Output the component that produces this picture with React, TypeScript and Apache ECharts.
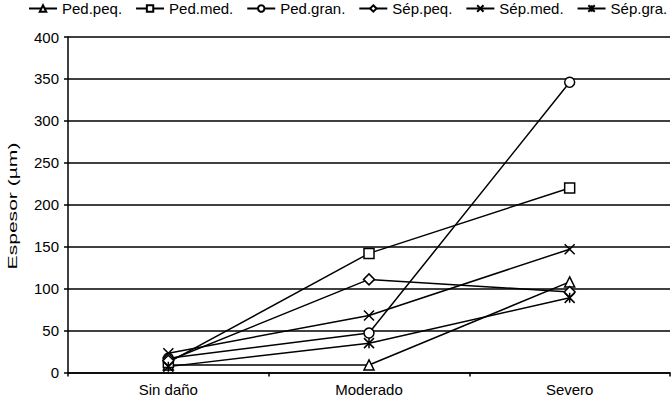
import React, { useEffect, useRef } from "react";
import * as echarts from "echarts";

const categories = ["Sin daño", "Moderado", "Severo"];
const seriesNames = ["Ped.peq.", "Ped.med.", "Ped.gran.", "Sép.peq.", "Sép.med.", "Sép.gra."];
const pedPeq = [9, 9, 108];
const pedMed = [12, 142, 220];
const pedGran = [17, 47, 346];
const sepPeq = [14, 111, 96];
const sepMed = [23, 68, 147];
const sepGra = [7, 35, 89];
const yTicks = [0, 50, 100, 150, 200, 250, 300, 350, 400];
const yTitle = "Espesor (µm)";

const seriesData = [pedPeq, pedMed, pedGran, sepPeq, sepMed, sepGra];
const symbols = [
  "triangle",
  "rect",
  "circle",
  "diamond",
  "path://M0,0L10,10M10,0L0,10",
  "path://M0,0L10,10M10,0L0,10M5,0L5,10",
];
const symbolSizes = [10, 10, 10, 11, 10, 10];

export default function App() {
  const ref = useRef<HTMLDivElement>(null);
  useEffect(() => {
    const chart = echarts.init(ref.current!, null, { renderer: "svg" });
    const font = "'Liberation Sans', Arial, sans-serif";
    chart.setOption({
      animation: false,
      backgroundColor: "#fff",
      textStyle: { fontFamily: font },
      legend: {
        top: 1,
        left: 28,
        width: 643,
        padding: 0,
        itemWidth: 28,
        itemHeight: 8,
        itemGap: 13,
        textStyle: { fontSize: 15, color: "#000", fontFamily: font },
        data: seriesNames,
      },
      grid: { left: 68, right: 1, top: 37, bottom: 34.5, containLabel: false },
      graphic: [
        {
          type: "text",
          x: 13,
          y: 206,
          rotation: Math.PI / 2,
          scaleX: 1.62,
          style: {
            text: yTitle,
            fontSize: 13,
            fontFamily: "Liberation Sans, Arial, sans-serif",
            fill: "#000000",
            stroke: "none",
            align: "center",
            verticalAlign: "middle",
          },
        },
      ],
      xAxis: {
        type: "category",
        data: categories,
        boundaryGap: true,
        axisLine: { lineStyle: { color: "#000", width: 1.5 } },
        axisTick: { show: true, length: 4, lineStyle: { color: "#000", width: 1.5 } },
        axisLabel: { color: "#000", fontSize: 15, fontFamily: font, margin: 9 },
      },
      yAxis: {
        type: "value",
        min: yTicks[0],
        max: yTicks[yTicks.length - 1],
        interval: 50,
        axisLine: { show: true, lineStyle: { color: "#000", width: 1.5 } },
        axisTick: { show: true, length: 4, lineStyle: { color: "#000", width: 1.5 } },
        axisLabel: { color: "#000", fontSize: 15, fontFamily: font, margin: 9 },
        splitLine: { show: true, lineStyle: { color: "#000", width: 1.5 } },
      },
      series: seriesNames.map((name, i) => ({
        name,
        type: "line",
        data: seriesData[i],
        symbol: symbols[i],
        symbolSize: symbolSizes[i],
        showAllSymbol: true,
        lineStyle: { color: "#000", width: 1.5 },
        itemStyle: { color: "#fff", borderColor: "#000", borderWidth: 1.5 },
        emphasis: { disabled: true },
      })),
    });
    return () => chart.dispose();
  }, []);
  return <div ref={ref} style={{ width: 671, height: 407, position: "absolute", left: 0, top: 0 }} />;
}
